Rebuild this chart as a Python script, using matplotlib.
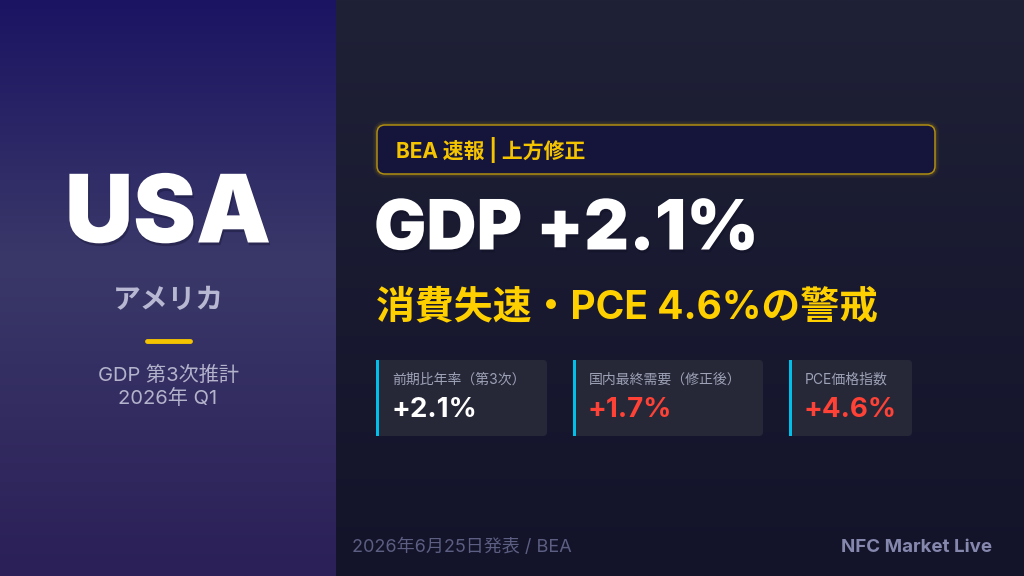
import numpy as np
import matplotlib.pyplot as plt
from matplotlib.patches import FancyBboxPatch, Rectangle
from matplotlib.colors import LinearSegmentedColormap
import matplotlib.patheffects as pe

plt.rcParams['font.family'] = ['Inter', 'Noto Sans CJK JP', 'DejaVu Sans']

# content
country = 'USA'
country_jp = 'アメリカ'
subtitle = ['GDP 第3次推計', '2026年 Q1']
badge = 'BEA 速報 | 上方修正'
headline = 'GDP +2.1%'
subhead = '消費失速・PCE 4.6%の警戒'
card_labels = ['前期比年率（第3次）', '国内最終需要（修正後）', 'PCE価格指数']
card_values = ['+2.1%', '+1.7%', '+4.6%']
card_colors = ['#ffffff', '#ff4136', '#ff4136']
footer_left = '2026年6月25日発表 / BEA'
footer_right = 'NFC Market Live'

W, H = 1024, 576
fig = plt.figure(figsize=(10.24, 5.76), dpi=100)
ax = fig.add_axes([0, 0, 1, 1])
ax.set_xlim(0, W)
ax.set_ylim(H, 0)
ax.axis('off')

# backgrounds
left_cmap = LinearSegmentedColormap.from_list(
    'left', [(0, '#1b1463'), (0.45, '#3a3869'), (1, '#2b2058')])
grad = np.linspace(0, 1, 256).reshape(-1, 1)
ax.imshow(grad, cmap=left_cmap, extent=[0, 336, H, 0], aspect='auto', zorder=0)
right_cmap = LinearSegmentedColormap.from_list(
    'right', [(0, '#1f2137'), (1, '#13132a')])
ax.imshow(grad, cmap=right_cmap, extent=[336, W, H, 0], aspect='auto', zorder=0)

# left panel
shadow = [pe.withSimplePatchShadow(offset=(1, -2), shadow_rgbFace='#0a0a20', alpha=0.3)]
ax.text(168, 218, country, color='white', fontsize=68, fontweight='black',
        ha='center', va='center', path_effects=shadow, zorder=3)
ax.text(168, 301, country_jp, color='#b9b8d2', fontsize=20, fontweight='bold',
        ha='center', va='center', zorder=3)
ax.plot([147, 190], [341, 341], color='#f5c400', lw=3.5, solid_capstyle='round', zorder=3)
ax.text(168, 375, subtitle[0], color='#b4b3cc', fontsize=14.5,
        ha='center', va='center', zorder=3)
ax.text(168, 399, subtitle[1], color='#b4b3cc', fontsize=14.5,
        ha='center', va='center', zorder=3)

# badge
for lw, a in [(6, 0.05), (3.5, 0.1)]:
    ax.add_patch(FancyBboxPatch((377, 125), 558, 49, boxstyle='round,pad=0,rounding_size=8',
                                fc='none', ec='#f5c400', lw=lw, alpha=a, zorder=2))
ax.add_patch(FancyBboxPatch((377, 125), 558, 49, boxstyle='round,pad=0,rounding_size=8',
                            fc='#15143a', ec='#b08e10', lw=1.1, zorder=2))
ax.text(396, 150, badge, color='#f5c400', fontsize=15, fontweight='bold',
        ha='left', va='center', zorder=3)

# headline
ax.text(374, 231, headline, color='white', fontsize=50, fontweight='black',
        ha='left', va='center', path_effects=shadow, zorder=3)
ax.text(376, 308, subhead, color='#ffd000', fontsize=28, fontweight='bold',
        ha='left', va='center', zorder=3)

# cards
card_x = [376, 573, 789]
card_w = [171, 190, 123]
for x, w, lab, val, col in zip(card_x, card_w, card_labels, card_values, card_colors):
    ax.add_patch(FancyBboxPatch((x, 360), w, 76, boxstyle='round,pad=0,rounding_size=4',
                                fc='#262838', ec='none', zorder=2))
    ax.add_patch(Rectangle((x, 360), 2.5, 76, fc='#00c0ea', ec='none', zorder=3))
    ax.text(x + 16, 380, lab, color='#9ea2b6', fontsize=10,
            ha='left', va='center', zorder=3)
    ax.text(x + 15, 410, val, color=col, fontsize=20, fontweight='bold',
            ha='left', va='center', zorder=3)

# footer
ax.text(352, 547, footer_left, color='#5c5e82', fontsize=13,
        ha='left', va='center', zorder=3)
ax.text(992, 547, footer_right, color='#8587ad', fontsize=13.5, fontweight='bold',
        ha='right', va='center', zorder=3)

fig.savefig('out.png', dpi=100)
